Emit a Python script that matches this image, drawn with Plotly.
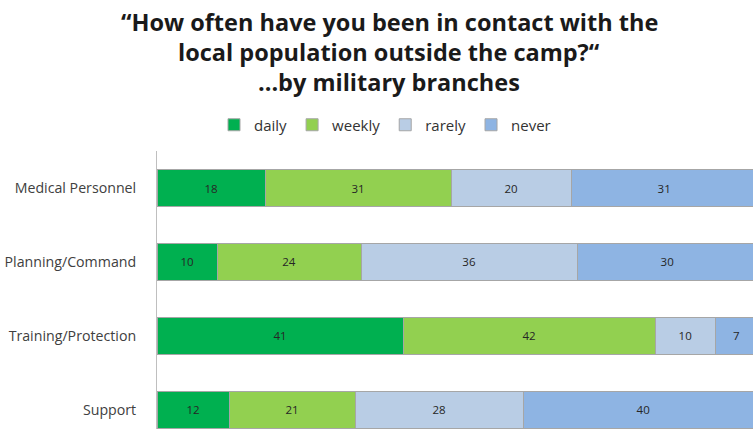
import plotly.graph_objects as go

categories = ["Medical Personnel", "Planning/Command", "Training/Protection", "Support"]
series_names = ["daily", "weekly", "rarely", "never"]
daily = [18, 10, 41, 12]
weekly = [31, 24, 42, 21]
rarely = [20, 36, 10, 28]
never = [31, 30, 7, 40]
colors = ["#00B050", "#92D050", "#B9CDE5", "#8EB4E3"]
title_lines = [
    "\u201cHow often have you been in contact with the",
    "local population outside the camp?\u201c",
    "...by military branches",
]

W, H = 753, 429
T = 151
PH = H - T

def py(p):
    return (H - p) / PH

fig = go.Figure()
for name, vals, col in zip(series_names, [daily, weekly, rarely, never], colors):
    fig.add_trace(go.Bar(
        y=categories, x=vals, name=name, orientation="h",
        marker=dict(color=col, line=dict(color="#A6A6A6", width=1)),
        text=[str(v) for v in vals], textposition="inside",
        insidetextanchor="middle", textangle=0,
        textfont=dict(family="Open Sans", size=11.5, color="#262626"),
        constraintext="none",
    ))

for i, (line, yc) in enumerate(zip(title_lines, [22, 52, 82])):
    fig.add_annotation(
        text="<b>" + line + "</b>", xref="paper", yref="paper",
        x=(389 - 157) / (W - 157), y=py(yc), xanchor="center", yanchor="middle",
        showarrow=False, font=dict(family="Open Sans", size=23.5, color="#1a1a1a"),
    )

fig.update_layout(
    width=W, height=H,
    barmode="stack", bargap=0.49,
    paper_bgcolor="white", plot_bgcolor="white",
    margin=dict(l=157, r=0, t=T, b=0, autoexpand=False),
    legend=dict(
        orientation="h", x=385 / W, xanchor="center", xref="container",
        y=1 - 125 / H, yanchor="middle", yref="container",
        font=dict(family="Open Sans", size=15, color="#333333"),
        traceorder="normal", itemwidth=30,
    ),
    showlegend=True,
)
fig.update_xaxes(range=[0, 99.3], visible=False, showgrid=False, zeroline=False)
fig.update_yaxes(
    type="category", categoryorder="array", categoryarray=categories,
    range=[3.257, -0.5], showline=True, linecolor="#BFBFBF", linewidth=1,
    ticks="", showgrid=False, ticklabelstandoff=17, automargin=False,
    tickfont=dict(family="Open Sans", size=14.2, color="#404040"),
)

fig.write_html(
    "out.html",
    config={"displayModeBar": False},
    post_script="document.body.style.margin='0';document.body.style.overflow='hidden';",
)
